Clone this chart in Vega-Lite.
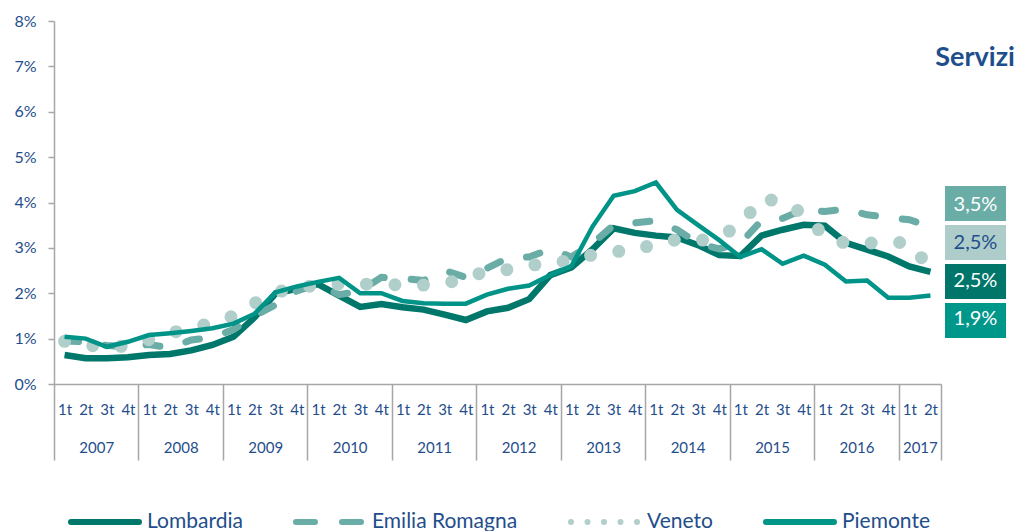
{
  "$schema": "https://vega.github.io/schema/vega-lite/v6.json",
  "width": 887,
  "height": 363,
  "autosize": {"type": "none"},
  "padding": {"left": 54, "top": 21, "right": 76, "bottom": 147},
  "background": "white",
  "config": {
    "view": {"stroke": null},
    "font": "Lato",
    "axis": {"labelFont": "Lato", "labelColor": "#1f4e8c", "grid": false, "title": null}
  },
  "datasets": {
    "q": [
      {"i":0,"s":"Lombardia","v":0.64},{"i":1,"s":"Lombardia","v":0.57},{"i":2,"s":"Lombardia","v":0.57},{"i":3,"s":"Lombardia","v":0.59},
      {"i":4,"s":"Lombardia","v":0.64},{"i":5,"s":"Lombardia","v":0.66},{"i":6,"s":"Lombardia","v":0.74},{"i":7,"s":"Lombardia","v":0.86},
      {"i":8,"s":"Lombardia","v":1.04},{"i":9,"s":"Lombardia","v":1.47},{"i":10,"s":"Lombardia","v":2.0},{"i":11,"s":"Lombardia","v":2.1},
      {"i":12,"s":"Lombardia","v":2.2},{"i":13,"s":"Lombardia","v":1.95},{"i":14,"s":"Lombardia","v":1.7},{"i":15,"s":"Lombardia","v":1.76},
      {"i":16,"s":"Lombardia","v":1.69},{"i":17,"s":"Lombardia","v":1.64},{"i":18,"s":"Lombardia","v":1.53},{"i":19,"s":"Lombardia","v":1.41},
      {"i":20,"s":"Lombardia","v":1.6},{"i":21,"s":"Lombardia","v":1.68},{"i":22,"s":"Lombardia","v":1.87},{"i":23,"s":"Lombardia","v":2.4},
      {"i":24,"s":"Lombardia","v":2.57},{"i":25,"s":"Lombardia","v":2.97},{"i":26,"s":"Lombardia","v":3.43},{"i":27,"s":"Lombardia","v":3.33},
      {"i":28,"s":"Lombardia","v":3.27},{"i":29,"s":"Lombardia","v":3.23},{"i":30,"s":"Lombardia","v":3.06},{"i":31,"s":"Lombardia","v":2.84},
      {"i":32,"s":"Lombardia","v":2.82},{"i":33,"s":"Lombardia","v":3.27},{"i":34,"s":"Lombardia","v":3.4},{"i":35,"s":"Lombardia","v":3.51},
      {"i":36,"s":"Lombardia","v":3.49},{"i":37,"s":"Lombardia","v":3.11},{"i":38,"s":"Lombardia","v":2.96},{"i":39,"s":"Lombardia","v":2.81},
      {"i":40,"s":"Lombardia","v":2.59},{"i":41,"s":"Lombardia","v":2.47},
      {"i":0,"s":"Emilia Romagna","v":0.95},{"i":1,"s":"Emilia Romagna","v":0.93},{"i":2,"s":"Emilia Romagna","v":0.85},{"i":3,"s":"Emilia Romagna","v":0.82},
      {"i":4,"s":"Emilia Romagna","v":0.87},{"i":5,"s":"Emilia Romagna","v":0.8},{"i":6,"s":"Emilia Romagna","v":0.97},{"i":7,"s":"Emilia Romagna","v":1.03},
      {"i":8,"s":"Emilia Romagna","v":1.2},{"i":9,"s":"Emilia Romagna","v":1.5},{"i":10,"s":"Emilia Romagna","v":1.75},{"i":11,"s":"Emilia Romagna","v":2.05},
      {"i":12,"s":"Emilia Romagna","v":2.2},{"i":13,"s":"Emilia Romagna","v":1.97},{"i":14,"s":"Emilia Romagna","v":2.05},{"i":15,"s":"Emilia Romagna","v":2.35},
      {"i":16,"s":"Emilia Romagna","v":2.33},{"i":17,"s":"Emilia Romagna","v":2.28},{"i":18,"s":"Emilia Romagna","v":2.5},{"i":19,"s":"Emilia Romagna","v":2.35},
      {"i":20,"s":"Emilia Romagna","v":2.55},{"i":21,"s":"Emilia Romagna","v":2.78},{"i":22,"s":"Emilia Romagna","v":2.8},{"i":23,"s":"Emilia Romagna","v":2.97},
      {"i":24,"s":"Emilia Romagna","v":2.8},{"i":25,"s":"Emilia Romagna","v":3.1},{"i":26,"s":"Emilia Romagna","v":3.5},{"i":27,"s":"Emilia Romagna","v":3.55},
      {"i":28,"s":"Emilia Romagna","v":3.6},{"i":29,"s":"Emilia Romagna","v":3.4},{"i":30,"s":"Emilia Romagna","v":3.1},{"i":31,"s":"Emilia Romagna","v":2.98},
      {"i":32,"s":"Emilia Romagna","v":3.1},{"i":33,"s":"Emilia Romagna","v":3.6},{"i":34,"s":"Emilia Romagna","v":3.65},{"i":35,"s":"Emilia Romagna","v":3.85},
      {"i":36,"s":"Emilia Romagna","v":3.8},{"i":37,"s":"Emilia Romagna","v":3.86},{"i":38,"s":"Emilia Romagna","v":3.73},{"i":39,"s":"Emilia Romagna","v":3.67},
      {"i":40,"s":"Emilia Romagna","v":3.62},{"i":41,"s":"Emilia Romagna","v":3.47},
      {"i":0,"s":"Veneto","v":0.94},{"i":1,"s":"Veneto","v":0.86},{"i":2,"s":"Veneto","v":0.81},{"i":3,"s":"Veneto","v":0.84},
      {"i":4,"s":"Veneto","v":0.98},{"i":5,"s":"Veneto","v":1.12},{"i":6,"s":"Veneto","v":1.24},{"i":7,"s":"Veneto","v":1.34},
      {"i":8,"s":"Veneto","v":1.5},{"i":9,"s":"Veneto","v":1.78},{"i":10,"s":"Veneto","v":2.02},{"i":11,"s":"Veneto","v":2.12},
      {"i":12,"s":"Veneto","v":2.18},{"i":13,"s":"Veneto","v":2.2},{"i":14,"s":"Veneto","v":2.2},{"i":15,"s":"Veneto","v":2.2},
      {"i":16,"s":"Veneto","v":2.18},{"i":17,"s":"Veneto","v":2.18},{"i":18,"s":"Veneto","v":2.22},{"i":19,"s":"Veneto","v":2.32},
      {"i":20,"s":"Veneto","v":2.5},{"i":21,"s":"Veneto","v":2.52},{"i":22,"s":"Veneto","v":2.6},{"i":23,"s":"Veneto","v":2.7},
      {"i":24,"s":"Veneto","v":2.7},{"i":25,"s":"Veneto","v":2.85},{"i":26,"s":"Veneto","v":2.92},{"i":27,"s":"Veneto","v":2.94},
      {"i":28,"s":"Veneto","v":3.1},{"i":29,"s":"Veneto","v":3.18},{"i":30,"s":"Veneto","v":3.15},{"i":31,"s":"Veneto","v":3.25},
      {"i":32,"s":"Veneto","v":3.5},{"i":33,"s":"Veneto","v":4.1},{"i":34,"s":"Veneto","v":4.0},{"i":35,"s":"Veneto","v":3.75},
      {"i":36,"s":"Veneto","v":3.25},{"i":37,"s":"Veneto","v":3.1},{"i":38,"s":"Veneto","v":3.1},{"i":39,"s":"Veneto","v":3.14},
      {"i":40,"s":"Veneto","v":3.1},{"i":41,"s":"Veneto","v":2.55},
      {"i":0,"s":"Piemonte","v":1.04},{"i":1,"s":"Piemonte","v":1.0},{"i":2,"s":"Piemonte","v":0.82},{"i":3,"s":"Piemonte","v":0.93},
      {"i":4,"s":"Piemonte","v":1.08},{"i":5,"s":"Piemonte","v":1.12},{"i":6,"s":"Piemonte","v":1.17},{"i":7,"s":"Piemonte","v":1.23},
      {"i":8,"s":"Piemonte","v":1.33},{"i":9,"s":"Piemonte","v":1.55},{"i":10,"s":"Piemonte","v":2.02},{"i":11,"s":"Piemonte","v":2.15},
      {"i":12,"s":"Piemonte","v":2.25},{"i":13,"s":"Piemonte","v":2.34},{"i":14,"s":"Piemonte","v":2.0},{"i":15,"s":"Piemonte","v":2.0},
      {"i":16,"s":"Piemonte","v":1.83},{"i":17,"s":"Piemonte","v":1.78},{"i":18,"s":"Piemonte","v":1.77},{"i":19,"s":"Piemonte","v":1.77},
      {"i":20,"s":"Piemonte","v":1.97},{"i":21,"s":"Piemonte","v":2.1},{"i":22,"s":"Piemonte","v":2.17},{"i":23,"s":"Piemonte","v":2.4},
      {"i":24,"s":"Piemonte","v":2.6},{"i":25,"s":"Piemonte","v":3.47},{"i":26,"s":"Piemonte","v":4.15},{"i":27,"s":"Piemonte","v":4.25},
      {"i":28,"s":"Piemonte","v":4.44},{"i":29,"s":"Piemonte","v":3.84},{"i":30,"s":"Piemonte","v":3.5},{"i":31,"s":"Piemonte","v":3.17},
      {"i":32,"s":"Piemonte","v":2.8},{"i":33,"s":"Piemonte","v":2.97},{"i":34,"s":"Piemonte","v":2.65},{"i":35,"s":"Piemonte","v":2.83},
      {"i":36,"s":"Piemonte","v":2.63},{"i":37,"s":"Piemonte","v":2.26},{"i":38,"s":"Piemonte","v":2.28},{"i":39,"s":"Piemonte","v":1.9},
      {"i":40,"s":"Piemonte","v":1.9},{"i":41,"s":"Piemonte","v":1.95}
    ],
    "lab": [
      {"s":"Emilia Romagna","label":"3,5%"},
      {"s":"Veneto","label":"2,5%"},
      {"s":"Lombardia","label":"2,5%"},
      {"s":"Piemonte","label":"1,9%"}
    ]
  },
  "resolve": {"scale": {"y": "independent"}, "axis": {"x": "independent", "y": "independent"}},
  "layer": [
    {
      "data": {"name": "q"},
      "transform": [{"filter": "datum.s === 'Lombardia'"}],
      "mark": {"type": "line", "strokeWidth": 6.5},
      "encoding": {
        "x": {"field": "i", "type": "quantitative",
          "scale": {"domain": [-0.5, 41.5], "nice": false, "zero": false},
          "axis": {"orient": "bottom", "values": [0,1,2,3,4,5,6,7,8,9,10,11,12,13,14,15,16,17,18,19,20,21,22,23,24,25,26,27,28,29,30,31,32,33,34,35,36,37,38,39,40,41],
            "labelExpr": "['1t','2t','3t','4t'][datum.value % 4]", "ticks": false, "tickSize": 0, "domain": true, "domainColor": "#a6a6a6", "domainWidth": 1.5,
            "labelPadding": 25, "labelBaseline": "middle", "labelFontSize": 15, "labelAngle": 0, "labelOverlap": false, "labelFlush": false, "labelBound": false}},
        "y": {"field": "v", "type": "quantitative",
          "scale": {"domain": [0, 8], "nice": false},
          "axis": {"values": [0,1,2,3,4,5,6,7,8], "labelExpr": "datum.value + '%'", "tickSize": 6, "tickColor": "#a6a6a6", "tickWidth": 1.5,
            "domainColor": "#a6a6a6", "domainWidth": 1.5, "labelPadding": 12, "labelFontSize": 16, "labelFlush": false, "labelOverlap": false}},
        "color": {"field": "s", "type": "nominal",
          "scale": {"domain": ["Lombardia", "Emilia Romagna", "Veneto", "Piemonte"], "range": ["#00776b", "#6aada6", "#b0cfcb", "#009488"]},
          "legend": {"orient": "none", "legendX": 14, "legendY": 464, "direction": "horizontal", "columns": 4, "title": null,
            "symbolType": "stroke", "symbolSize": 4624, "symbolStrokeWidth": 6, "labelFontSize": 21, "labelColor": "#1f4e8c", "labelFont": "Lato",
            "labelOffset": 5, "columnPadding": 41, "padding": 0, "labelLimit": 400,
            "encode": {"symbols": {"update": {
              "strokeWidth": {"value": 6},
              "strokeDash": {"signal": "datum.value === 'Emilia Romagna' ? [19, 27] : (datum.value === 'Veneto' ? [0, 16.5] : [1, 0])"},
              "strokeCap": {"value": "round"}}}}}}
      }
    },
    {
      "data": {"name": "q"},
      "transform": [{"filter": "datum.s === 'Emilia Romagna'"}],
      "mark": {"type": "line", "strokeWidth": 7, "strokeDash": [14, 27], "strokeCap": "round"},
      "encoding": {
        "x": {"field": "i", "type": "quantitative",
          "scale": {"domain": [-0.5, 41.5], "nice": false, "zero": false},
          "axis": {"orient": "bottom", "values": [-0.5, 3.5, 7.5, 11.5, 15.5, 19.5, 23.5, 27.5, 31.5, 35.5, 39.5, 41.5],
            "labels": false, "domain": false, "ticks": true, "tickSize": 76, "tickColor": "#a6a6a6", "tickWidth": 1.5}},
        "y": {"field": "v", "type": "quantitative", "scale": {"domain": [0, 8], "nice": false}, "axis": null},
        "color": {"field": "s", "type": "nominal",
          "scale": {"domain": ["Lombardia", "Emilia Romagna", "Veneto", "Piemonte"], "range": ["#00776b", "#6aada6", "#b0cfcb", "#009488"]}}
      }
    },
    {
      "data": {"name": "q"},
      "transform": [{"filter": "datum.s === 'Veneto'"}],
      "mark": {"type": "line", "strokeWidth": 13, "strokeDash": [0, 28.5], "strokeCap": "round"},
      "encoding": {
        "x": {"field": "i", "type": "quantitative",
          "scale": {"domain": [-0.5, 41.5], "nice": false, "zero": false},
          "axis": {"orient": "bottom", "values": [1.5, 5.5, 9.5, 13.5, 17.5, 21.5, 25.5, 29.5, 33.5, 37.5, 40.5],
            "labelExpr": "'' + (2007 + floor(datum.value / 4))", "ticks": false, "tickSize": 0, "domain": false,
            "labelPadding": 63, "labelBaseline": "middle", "labelFontSize": 15, "labelAngle": 0, "labelOverlap": false, "labelFlush": false, "labelBound": false}},
        "y": {"field": "v", "type": "quantitative", "scale": {"domain": [0, 8], "nice": false}, "axis": null},
        "color": {"field": "s", "type": "nominal",
          "scale": {"domain": ["Lombardia", "Emilia Romagna", "Veneto", "Piemonte"], "range": ["#00776b", "#6aada6", "#b0cfcb", "#009488"]}}
      }
    },
    {
      "data": {"name": "q"},
      "transform": [{"filter": "datum.s === 'Piemonte'"}],
      "mark": {"type": "line", "strokeWidth": 4.5},
      "encoding": {
        "x": {"field": "i", "type": "quantitative", "scale": {"domain": [-0.5, 41.5], "nice": false, "zero": false}, "axis": null},
        "y": {"field": "v", "type": "quantitative", "scale": {"domain": [0, 8], "nice": false}, "axis": null},
        "color": {"field": "s", "type": "nominal",
          "scale": {"domain": ["Lombardia", "Emilia Romagna", "Veneto", "Piemonte"], "range": ["#00776b", "#6aada6", "#b0cfcb", "#009488"]}}
      }
    },
    {
      "data": {"name": "lab"},
      "mark": {"type": "rect"},
      "encoding": {
        "x": {"datum": 41.69, "type": "quantitative", "scale": {"domain": [-0.5, 41.5], "nice": false, "zero": false}, "axis": null},
        "x2": {"datum": 44.58},
        "y": {"field": "s", "type": "nominal",
          "scale": {"domain": ["Emilia Romagna", "Veneto", "Lombardia", "Piemonte"], "range": [165, 317], "paddingInner": 0.1, "paddingOuter": 0},
          "axis": null},
        "fill": {"field": "s", "type": "nominal",
          "scale": {"domain": ["Lombardia", "Emilia Romagna", "Veneto", "Piemonte"], "range": ["#00766a", "#6aaca6", "#aecdca", "#00978b"]},
          "legend": null}
      }
    },
    {
      "data": {"name": "lab"},
      "mark": {"type": "text", "fontSize": 20, "font": "Lato", "align": "center", "baseline": "middle"},
      "encoding": {
        "x": {"datum": 43.13, "type": "quantitative", "scale": {"domain": [-0.5, 41.5], "nice": false, "zero": false}, "axis": null},
        "y": {"field": "s", "type": "nominal",
          "scale": {"domain": ["Emilia Romagna", "Veneto", "Lombardia", "Piemonte"], "range": [165, 317], "paddingInner": 0.1, "paddingOuter": 0},
          "axis": null},
        "text": {"field": "label"},
        "color": {"condition": {"test": "datum.s === 'Veneto'", "value": "#1f4e8c"}, "value": "#ffffff"}
      }
    },
    {
      "data": {"values": [{"t": "Servizi"}]},
      "mark": {"type": "text", "fontSize": 27, "fontWeight": "bold", "font": "Lato", "align": "right", "baseline": "alphabetic", "color": "#1f4e8c"},
      "encoding": {
        "x": {"datum": 45.0, "type": "quantitative", "scale": {"domain": [-0.5, 41.5], "nice": false, "zero": false}, "axis": null},
        "y": {"datum": 7.0, "type": "quantitative", "scale": {"domain": [0, 8], "nice": false}, "axis": null},
        "text": {"field": "t"}
      }
    }
  ]
}
